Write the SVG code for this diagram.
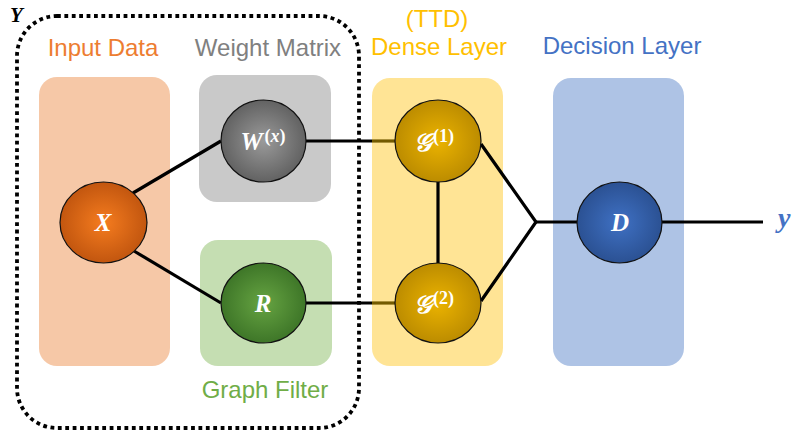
<svg xmlns="http://www.w3.org/2000/svg" width="796" height="433" viewBox="0 0 796 433">
  <defs>
    <radialGradient id="gX" cx="50%" cy="50%" r="50%">
      <stop offset="0" stop-color="#F57C1F"/>
      <stop offset="1" stop-color="#C2560F"/>
    </radialGradient>
    <radialGradient id="gW" cx="50%" cy="50%" r="50%">
      <stop offset="0" stop-color="#9A9A9A"/>
      <stop offset="1" stop-color="#626262"/>
    </radialGradient>
    <radialGradient id="gR" cx="50%" cy="50%" r="50%">
      <stop offset="0" stop-color="#66A442"/>
      <stop offset="1" stop-color="#3E7628"/>
    </radialGradient>
    <radialGradient id="gG" cx="50%" cy="50%" r="50%">
      <stop offset="0" stop-color="#EBB300"/>
      <stop offset="1" stop-color="#BC8C00"/>
    </radialGradient>
    <radialGradient id="gD" cx="50%" cy="50%" r="50%">
      <stop offset="0" stop-color="#3F71C4"/>
      <stop offset="1" stop-color="#2B5193"/>
    </radialGradient>
    <style>
      .lbl { font-family: "Liberation Sans", Arial, sans-serif; font-size: 24px; text-anchor: middle; }
      .node ellipse { stroke: #111; stroke-width: 1.2; }
      .nt { font-family: "Liberation Serif", "DejaVu Serif", serif; font-weight: bold; font-style: italic; fill: #fff; font-size: 25px; text-anchor: middle; }
      .sup { font-size: 18px; font-style: normal; }
      .edge { stroke: #000; stroke-width: 3.2; fill: none; }
      .edge-dim { stroke: #735A00; stroke-width: 3.2; fill: none; }
    </style>
  </defs>

  <rect width="796" height="433" fill="#fff"/>

  <!-- enclosing dotted boundary Y -->
  <g id="boundary-Y">
    <rect x="17" y="16" width="342" height="412" rx="40" ry="40" fill="none" stroke="#000" stroke-width="3.8" stroke-dasharray="3.8 3.6"/>
    <text x="10" y="22" font-family="'Liberation Serif', serif" font-weight="bold" font-style="italic" font-size="21">Y</text>
  </g>

  <!-- layer panels -->
  <g id="panel-input">
    <rect x="39" y="77" width="131" height="289" rx="18" fill="#F6C8A7"/>
    <text class="lbl" x="103" y="56" fill="#ED7D31">Input Data</text>
  </g>
  <g id="panel-weight">
    <rect x="199" y="75" width="132" height="127" rx="18" fill="#C9C9C9"/>
    <text class="lbl" x="268" y="56" fill="#808080">Weight Matrix</text>
  </g>
  <g id="panel-filter">
    <rect x="200" y="240" width="132" height="126" rx="18" fill="#C5DEB2"/>
    <text class="lbl" x="265" y="398" fill="#70AD47">Graph Filter</text>
  </g>
  <g id="panel-dense">
    <rect x="372" y="78" width="131" height="288" rx="18" fill="#FFE495"/>
    <text class="lbl" x="437" y="27" fill="#FFC000">(TTD)</text>
    <text class="lbl" x="439" y="55" fill="#FFC000">Dense Layer</text>
  </g>
  <g id="panel-decision">
    <rect x="553" y="78" width="131" height="288" rx="18" fill="#AEC3E5"/>
    <text class="lbl" x="622" y="54" fill="#4472C4">Decision Layer</text>
  </g>

  <!-- connectors -->
  <g id="connectors">
    <path class="edge" d="M133,193 L221,141"/>
    <path class="edge" d="M134,251 L221,303"/>
    <path class="edge" d="M306,141 L372,141"/>
    <path class="edge-dim" d="M372,141 L395,141"/>
    <path class="edge" d="M306,303 L372,303"/>
    <path class="edge-dim" d="M372,303 L395,303"/>
    <path class="edge" d="M438,182 V263"/>
    <path class="edge" d="M481,144 L536,222 L481,301"/>
    <path class="edge" d="M536,222 H577"/>
    <path class="edge" d="M662,222 H763"/>
  </g>

  <!-- nodes -->
  <g id="node-X" class="node">
    <ellipse cx="103.5" cy="222.5" rx="43.5" ry="40.5" fill="url(#gX)"/>
    <text class="nt" x="103" y="231">X</text>
  </g>
  <g id="node-W" class="node">
    <ellipse cx="263.5" cy="141" rx="42.5" ry="41" fill="url(#gW)"/>
    <text class="nt" x="263" y="150">W<tspan class="sup" dx="2" dy="-8">(<tspan font-style="italic">x</tspan>)</tspan></text>
  </g>
  <g id="node-R" class="node">
    <ellipse cx="263.5" cy="303" rx="42.5" ry="40" fill="url(#gR)"/>
    <text class="nt" x="263" y="312">R</text>
  </g>
  <g id="node-G1" class="node">
    <ellipse cx="438" cy="141" rx="43" ry="41" fill="url(#gG)"/>
    <text class="nt" x="434" y="151">𝒢<tspan class="sup" dx="1" dy="-9">(1)</tspan></text>
  </g>
  <g id="node-G2" class="node">
    <ellipse cx="438" cy="303" rx="43" ry="40" fill="url(#gG)"/>
    <text class="nt" x="434" y="313">𝒢<tspan class="sup" dx="1" dy="-9">(2)</tspan></text>
  </g>
  <g id="node-D" class="node">
    <ellipse cx="619.5" cy="222.5" rx="42.5" ry="40.5" fill="url(#gD)"/>
    <text class="nt" x="620" y="231">D</text>
  </g>

  <!-- output -->
  <g id="output-y">
    <text x="778" y="227" font-family="'Liberation Serif', serif" font-weight="bold" font-style="italic" font-size="28" fill="#4472C4">y</text>
  </g>
</svg>
